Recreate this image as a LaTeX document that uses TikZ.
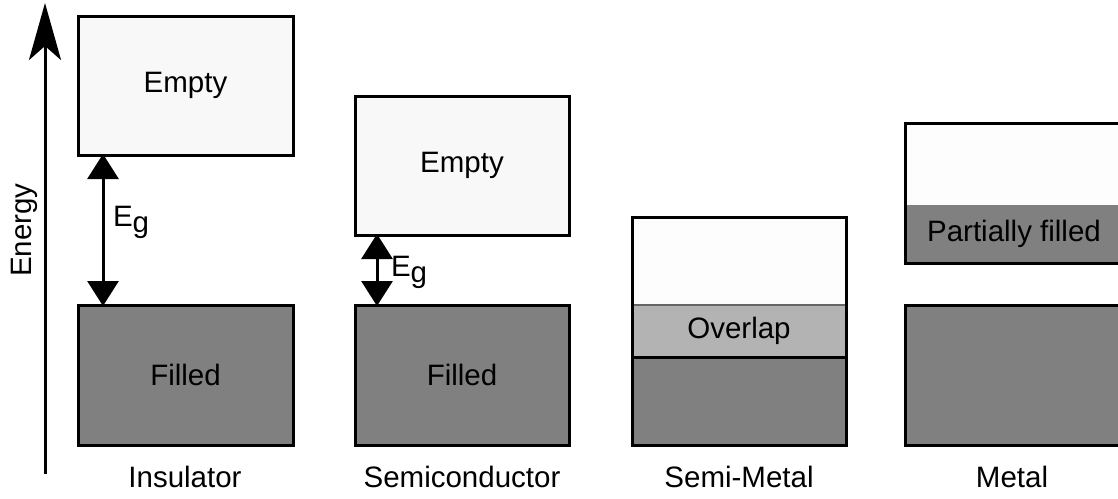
\documentclass[tikz,border=0pt]{standalone}
\usepackage{fontspec}
\setmainfont{Liberation Sans}
\usetikzlibrary{arrows.meta}
\definecolor{emptyfill}{HTML}{F8F8F8}
\definecolor{whitefill}{HTML}{FDFDFD}
\definecolor{filledgrey}{HTML}{808080}
\definecolor{overlapgrey}{HTML}{B3B3B3}
\definecolor{seamgrey}{HTML}{666666}
\begin{document}
\begin{tikzpicture}[x=1pt,y=-1pt,
  every node/.style={font=\fontsize{29.5}{35}\selectfont, inner sep=0pt, outer sep=0pt},
  bandbox/.style={draw, line width=3pt, rectangle, minimum width=215pt},
  band/.style={rectangle, minimum width=#1},
  band/.default=214pt,
  gaparrow/.style={line width=3pt, {Triangle[width=31pt,length=25pt]}-{Triangle[width=31pt,length=25pt]}, shorten <=-1pt, shorten >=-1pt},
  caption/.style={anchor=center}
]
\clip (0,0) rectangle (1118,498);
\fill[white] (0,0) rectangle (1118,498);

% energy axis
\coordinate (ax0) at (45,474);
\coordinate (ax1) at (45,3);
\draw[line width=3pt, -{Stealth[width=32pt,length=57pt,inset=14pt]}] (ax0) -- (ax1);
\node[rotate=90] (energy) at (24,230) {Energy};

% Insulator
\node[bandbox, fill=emptyfill, minimum height=139pt] (ins-e) at (185.5,85.5) {Empty};
\node[bandbox, fill=filledgrey, minimum height=140pt] (ins-f) at (185.5,375) {Filled};
\coordinate (ins-a) at (ins-e.south west -| 103,0);
\coordinate (ins-b) at (ins-f.north west -| 103,0);
\draw[gaparrow] (ins-a) -- (ins-b);
\node[anchor=west] (ins-g) at (113,222) {E\raisebox{-6pt}{g}};
\node[caption] (ins-l) at (185,477) {Insulator};

% Semiconductor
\node[bandbox, fill=emptyfill, minimum height=139pt, minimum width=214pt] (sc-e) at (462,165.5) {Empty};
\node[bandbox, fill=filledgrey, minimum height=140pt, minimum width=214pt] (sc-f) at (462,375) {Filled};
\coordinate (sc-a) at (sc-e.south west -| 377,0);
\coordinate (sc-b) at (sc-f.north west -| 377,0);
\draw[gaparrow] (sc-a) -- (sc-b);
\node[anchor=west] (sc-g) at (391,272) {E\raisebox{-6pt}{g}};
\node[caption] (sc-l) at (462,477) {Semiconductor};

% Semi-metal
\node[band, fill=whitefill, minimum height=88pt] (sm-t) at (739,261) {};
\node[band, fill=overlapgrey, minimum height=52pt] (sm-o) at (739,331) {Overlap};
\node[band, fill=filledgrey, minimum height=88pt] (sm-b) at (739,401) {};
\draw[seamgrey, line width=2pt] (sm-o.north west) -- (sm-o.north east);
\draw[line width=3pt] (sm-o.south west) -- (sm-o.south east);
\draw[line width=3pt] (sm-t.north west) rectangle (sm-b.south east);
\node[caption] (sm-l) at (739,477) {Semi-Metal};

% Metal
\node[band=218pt, fill=whitefill, minimum height=82pt] (mt-t) at (1014,164) {};
\node[band=218pt, fill=filledgrey, minimum height=58pt] (mt-p) at (1014,234) {Partially filled};
\draw[line width=3pt] (mt-t.north west) rectangle (mt-p.south east);
\node[bandbox, fill=filledgrey, minimum height=140pt, minimum width=218pt] (mt-f) at (1014,375) {};
\node[caption] (mt-l) at (1012,477) {Metal};
\end{tikzpicture}
\end{document}
